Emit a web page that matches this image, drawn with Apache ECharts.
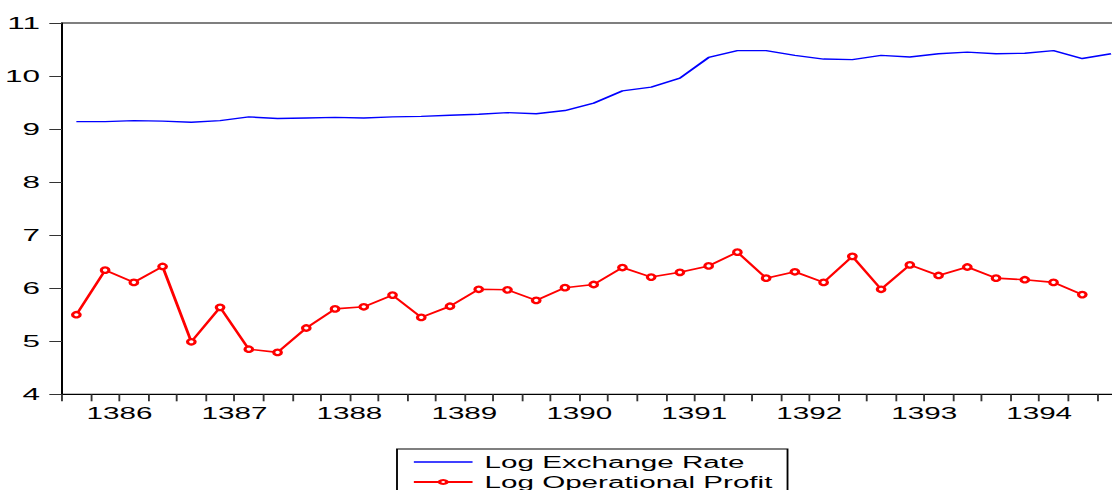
<!DOCTYPE html>
<html>
<head>
<meta charset="utf-8">
<script src="https://cdn.jsdelivr.net/npm/echarts@6.0.0/dist/echarts.min.js"></script>
<style>
    html, body {
        margin: 0;
        padding: 0;
        overflow: hidden;
        background: #fff;
    }
    #chart-container {
        position: absolute;
        left: 0;
        top: 0;
        height: 530px;
        transform-origin: 0 0;
    }
</style>
</head>
<body>
<div id="chart-container"></div>
<script>
// the axis runs on past the right edge of the picture into 1395
const axisYears = ['1386', '1387', '1388', '1389', '1390', '1391', '1392', '1393', '1394', '1395'];
const yearLabels = ['1386', '1387', '1388', '1389', '1390', '1391', '1392', '1393', '1394', ''];
const quarterNames = ['Q1', 'Q2', 'Q3', 'Q4'];
const quarters = axisYears.flatMap(y => quarterNames.map(q => y + q));

// Log Exchange Rate, 1386Q1 ..
const exchangeRate = [9.14, 9.14, 9.16, 9.15, 9.13, 9.16, 9.23, 9.20, 9.21, 9.22, 9.21, 9.23,
    9.24, 9.26, 9.28, 9.31, 9.29, 9.35, 9.49, 9.72, 9.79, 9.96, 10.35, 10.48,
    10.48, 10.39, 10.32, 10.31, 10.39, 10.36, 10.42, 10.45, 10.42, 10.43, 10.48, 10.33, 10.42];

// Log Operational Profit, 1386Q1 .. 1394Q4
const operationalProfit = [5.50, 6.34, 6.11, 6.41, 4.99, 5.64, 4.85, 4.79, 5.25, 5.61, 5.65, 5.87,
    5.45, 5.66, 5.98, 5.97, 5.77, 6.01, 6.07, 6.39, 6.21, 6.30, 6.42, 6.68,
    6.19, 6.31, 6.11, 6.60, 5.98, 6.44, 6.24, 6.40, 6.19, 6.16, 6.11, 5.88];

const yTicks = {min: 4, max: 11, interval: 1};

// the reference graph is stretched sideways, so draw narrow and scale x
const SX = 1.85;
const sx = v => v / SX;

var chartDom = document.getElementById('chart-container');
chartDom.style.width = sx(1240) + 'px';
chartDom.style.transform = 'scaleX(' + SX + ')';
var myChart = echarts.init(chartDom, null, {renderer: 'svg'});
var option;

option = {
    animation: false,
    textStyle: {
        fontFamily: '"Liberation Sans", Arial, sans-serif',
        color: '#000'
    },
    grid: {
        left: sx(62),
        top: 23,
        width: sx(quarters.length * 28.74),
        height: 371.3,
        show: true,
        borderColor: '#000',
        borderWidth: 1,
        containLabel: false,
        outerBoundsMode: 'none'
    },
    legend: {
        orient: 'vertical',
        left: sx(397),
        top: 449,
        padding: [5, sx(15), 6, sx(15)],
        itemWidth: sx(58.7),
        itemHeight: 5,
        itemGap: 4,
        borderColor: '#000',
        borderWidth: 1,
        borderRadius: 0,
        selectedMode: false,
        textStyle: {
            fontSize: 16,
            color: '#000',
            padding: [0, 0, 0, 1.5]
        },
        data: [
            {name: 'Log Exchange Rate', icon: 'path://M0,0H40V2H0Z'},
            {name: 'Log Operational Profit'}
        ]
    },
    xAxis: [
        {
            type: 'category',
            data: quarters,
            boundaryGap: true,
            axisLine: {
                lineStyle: {color: '#000', width: 1}
            },
            axisTick: {
                show: true,
                interval: 0,
                length: 7,
                lineStyle: {color: '#333'}
            },
            axisLabel: {show: false},
            splitLine: {show: false}
        },
        {
            // year labels, one band per four quarters
            type: 'category',
            data: yearLabels,
            position: 'bottom',
            gridIndex: 0,
            axisLine: {show: false},
            axisTick: {show: false},
            axisLabel: {
                interval: 0,
                fontSize: 16,
                margin: 11,
                color: '#000'
            },
            splitLine: {show: false}
        }
    ],
    yAxis: {
        type: 'value',
        min: yTicks.min,
        max: yTicks.max,
        interval: yTicks.interval,
        axisLine: {
            show: true,
            lineStyle: {color: '#000', width: 1}
        },
        axisTick: {
            show: true,
            length: sx(12.7),
            lineStyle: {color: '#333'}
        },
        axisLabel: {
            fontSize: 17,
            margin: sx(22),
            color: '#000'
        },
        splitLine: {show: false}
    },
    series: [
        {
            name: 'Log Exchange Rate',
            type: 'line',
            xAxisIndex: 0,
            symbol: 'none',
            lineStyle: {color: '#0000ff', width: 1.4},
            itemStyle: {color: '#0000ff'},
            data: exchangeRate
        },
        {
            name: 'Log Operational Profit',
            type: 'line',
            xAxisIndex: 0,
            symbol: 'emptyCircle',
            symbolSize: [sx(7.6), 5.4],
            lineStyle: {color: '#ff0000', width: 1.6},
            itemStyle: {color: '#ff0000', borderWidth: 0.8},
            data: operationalProfit
        }
    ]
};

option && myChart.setOption(option);
</script>
</body>
</html>
